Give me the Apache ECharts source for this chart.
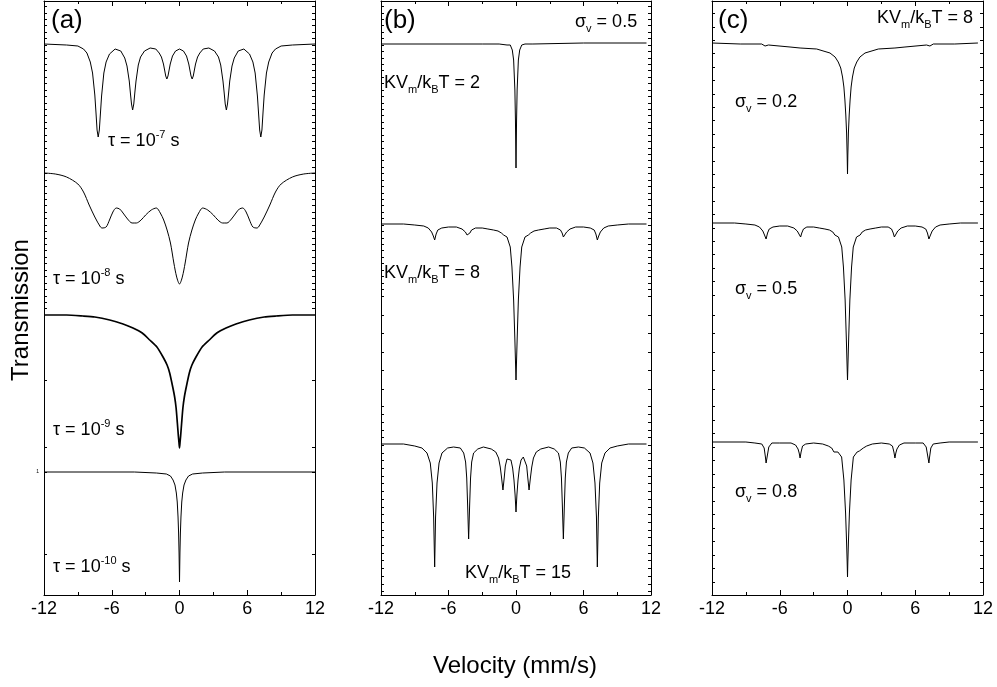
<!DOCTYPE html>
<html>
<head>
<meta charset="utf-8">
<script src="https://cdn.jsdelivr.net/npm/echarts@6/dist/echarts.min.js"></script>
<style>
html,body{margin:0;padding:0;background:#fff;}
#chart{width:997px;height:687px;}
</style>
</head>
<body>
<div id="chart"></div>
<script>
// ---------- DATA (velocity mm/s, transmission with vertical offsets) ----------
const xTickLabels = ['-12', '-6', '0', '6', '12'];
const yTickLabels = ['1'];

// Panel (a)
const tau7 = [[-12,1.428],[-10,1.427],[-9,1.426],[-8.5,1.423],[-8.2,1.419],[-7.9,1.410],[-7.7,1.399],[-7.5,1.377],[-7.4,1.360],[-7.3,1.342],[-7.2,1.335],[-7.1,1.342],[-7.0,1.359],[-6.9,1.376],[-6.7,1.399],[-6.5,1.410],[-6.2,1.418],[-5.7,1.423],[-5.2,1.421],[-4.85,1.414],[-4.65,1.406],[-4.45,1.391],[-4.35,1.379],[-4.25,1.368],[-4.15,1.362],[-4.05,1.368],[-3.95,1.380],[-3.85,1.391],[-3.65,1.407],[-3.45,1.415],[-3.1,1.421],[-2.6,1.424],[-2.1,1.423],[-1.8,1.419],[-1.6,1.415],[-1.42,1.408],[-1.32,1.402],[-1.22,1.396],[-1.12,1.393],[-1.02,1.396],[-0.92,1.402],[-0.82,1.408],[-0.62,1.416],[-0.35,1.421],[0,1.423],[0.35,1.421],[0.62,1.416],[0.82,1.408],[0.92,1.402],[1.02,1.396],[1.12,1.393],[1.22,1.396],[1.32,1.402],[1.42,1.408],[1.6,1.415],[1.8,1.419],[2.1,1.423],[2.6,1.424],[3.1,1.421],[3.45,1.415],[3.65,1.407],[3.85,1.391],[3.95,1.380],[4.05,1.368],[4.15,1.362],[4.25,1.368],[4.35,1.379],[4.45,1.391],[4.65,1.406],[4.85,1.414],[5.2,1.421],[5.7,1.423],[6.2,1.418],[6.5,1.410],[6.7,1.399],[6.9,1.376],[7.0,1.359],[7.1,1.342],[7.2,1.335],[7.3,1.342],[7.4,1.360],[7.5,1.377],[7.7,1.399],[7.9,1.410],[8.2,1.419],[8.5,1.423],[9,1.426],[10,1.427],[12,1.428]];

const tau8 = [[-12,1.299],[-11,1.298],[-10,1.295],[-9,1.288],[-8.5,1.280],[-8,1.267],[-7.5,1.255],[-7,1.245],[-6.86,1.244],[-6.5,1.245],[-6.2,1.252],[-5.9,1.260],[-5.6,1.264],[-5.3,1.263],[-5.0,1.259],[-4.6,1.253],[-4.2,1.249],[-3.82,1.249],[-3.4,1.252],[-3.0,1.257],[-2.5,1.262],[-2.05,1.264],[-1.7,1.259],[-1.4,1.252],[-1.1,1.242],[-0.8,1.229],[-0.5,1.209],[-0.25,1.195],[0,1.188],[0.25,1.195],[0.5,1.209],[0.8,1.229],[1.1,1.242],[1.4,1.252],[1.7,1.259],[2.05,1.264],[2.5,1.262],[3.0,1.257],[3.4,1.252],[3.82,1.249],[4.2,1.249],[4.6,1.253],[5.0,1.259],[5.3,1.263],[5.6,1.264],[5.9,1.260],[6.2,1.252],[6.5,1.245],[6.86,1.244],[7,1.245],[7.5,1.255],[8,1.267],[8.5,1.280],[9,1.288],[10,1.295],[11,1.298],[12,1.299]];

const tau9 = [[-12,1.157],[-10,1.157],[-8.55,1.156],[-7.5,1.155],[-6.18,1.152],[-5,1.148],[-4.12,1.144],[-3.3,1.139],[-2.64,1.132],[-2,1.125],[-1.46,1.115],[-1.1,1.107],[-0.87,1.099],[-0.6,1.085],[-0.43,1.075],[-0.3,1.064],[-0.19,1.049],[-0.1,1.036],[-0.05,1.030],[0,1.024],[0.05,1.030],[0.1,1.036],[0.19,1.049],[0.3,1.064],[0.43,1.075],[0.6,1.085],[0.87,1.099],[1.1,1.107],[1.46,1.115],[2,1.125],[2.64,1.132],[3.3,1.139],[4.12,1.144],[5,1.148],[6.18,1.152],[7.5,1.155],[8.55,1.156],[10,1.157],[12,1.157]];

const tau10 = [[-12,1.000],[-4,1.000],[-2.05,0.999],[-1.16,0.998],[-0.8,0.996],[-0.57,0.992],[-0.4,0.987],[-0.28,0.979],[-0.2,0.970],[-0.13,0.955],[-0.08,0.939],[-0.04,0.919],[0,0.890],[0.04,0.919],[0.08,0.939],[0.13,0.955],[0.2,0.970],[0.28,0.979],[0.4,0.987],[0.57,0.992],[0.8,0.996],[1.16,0.998],[2.05,0.999],[4,1.000],[12,1.000]];

// Panel (b), sigma_v = 0.5
const kv2 = [[-12,1.428],[-3,1.428],[-1.5,1.428],[-0.8,1.427],[-0.51,1.427],[-0.33,1.422],[-0.21,1.412],[-0.1,1.382],[-0.05,1.352],[0,1.304],[0.05,1.352],[0.1,1.382],[0.21,1.412],[0.33,1.422],[0.51,1.427],[0.8,1.428],[1.5,1.428],[6,1.429],[11.6,1.429]];

const kv8 = [[-12,1.248],[-10,1.248],[-9,1.247],[-8.2,1.246],[-7.8,1.244],[-7.5,1.240],[-7.35,1.236],[-7.23,1.232],[-7.1,1.238],[-6.95,1.242],[-6.6,1.244],[-6,1.245],[-5.3,1.245],[-4.8,1.243],[-4.5,1.240],[-4.35,1.237],[-4.21,1.235],[-4.1,1.239],[-3.95,1.242],[-3.6,1.244],[-3,1.244],[-2.5,1.243],[-2,1.242],[-1.6,1.241],[-1.3,1.239],[-1.1,1.237],[-0.95,1.237],[-0.8,1.235],[-0.51,1.225],[-0.36,1.205],[-0.21,1.172],[-0.1,1.132],[-0.05,1.112],[0,1.092],[0.05,1.112],[0.1,1.132],[0.21,1.172],[0.36,1.205],[0.51,1.225],[0.8,1.235],[0.95,1.237],[1.1,1.237],[1.3,1.239],[1.6,1.241],[2,1.242],[2.5,1.243],[3,1.244],[3.6,1.244],[3.95,1.242],[4.1,1.239],[4.21,1.235],[4.35,1.237],[4.5,1.240],[4.8,1.243],[5.3,1.245],[6,1.245],[6.6,1.244],[6.95,1.242],[7.1,1.238],[7.23,1.232],[7.35,1.236],[7.5,1.240],[7.8,1.244],[8.2,1.246],[9,1.247],[10,1.248],[11.6,1.248]];

const kv15 = [[-12,1.028],[-10,1.028],[-9,1.026],[-8.36,1.024],[-7.91,1.019],[-7.62,1.009],[-7.44,0.989],[-7.32,0.955],[-7.23,0.905],[-7.15,0.955],[-7.02,0.989],[-6.84,1.009],[-6.58,1.019],[-6.08,1.024],[-5.55,1.025],[-4.95,1.024],[-4.65,1.019],[-4.48,1.010],[-4.38,0.994],[-4.3,0.967],[-4.21,0.933],[-4.12,0.967],[-4.04,0.994],[-3.94,1.010],[-3.77,1.019],[-3.4,1.023],[-2.9,1.025],[-2.2,1.023],[-1.8,1.020],[-1.55,1.014],[-1.4,1.005],[-1.28,0.994],[-1.16,0.982],[-1.05,0.994],[-0.95,1.006],[-0.8,1.013],[-0.65,1.015],[-0.45,1.012],[-0.3,1.004],[-0.18,0.992],[-0.08,0.977],[0,0.960],[0.08,0.977],[0.18,0.992],[0.3,1.004],[0.45,1.012],[0.65,1.015],[0.8,1.013],[0.95,1.006],[1.05,0.994],[1.16,0.982],[1.28,0.994],[1.4,1.005],[1.55,1.014],[1.8,1.020],[2.2,1.023],[2.9,1.025],[3.4,1.023],[3.77,1.019],[3.94,1.010],[4.04,0.994],[4.12,0.967],[4.21,0.933],[4.3,0.967],[4.38,0.994],[4.48,1.010],[4.65,1.019],[4.95,1.024],[5.55,1.025],[6.08,1.024],[6.58,1.019],[6.84,1.009],[7.02,0.989],[7.15,0.955],[7.23,0.905],[7.32,0.955],[7.44,0.989],[7.62,1.009],[7.91,1.019],[8.36,1.024],[9,1.026],[10,1.028],[11.6,1.028]];

// Panel (c), KVm/kBT = 8
const sig02 = [[-12,1.429],[-9.5,1.428],[-7.6,1.428],[-7.3,1.426],[-7.0,1.427],[-5.09,1.425],[-4.2,1.424],[-2.73,1.423],[-1.55,1.419],[-1.1,1.415],[-0.82,1.410],[-0.6,1.404],[-0.44,1.395],[-0.32,1.385],[-0.23,1.372],[-0.15,1.357],[-0.08,1.339],[-0.03,1.317],[0,1.298],[0.03,1.317],[0.08,1.339],[0.15,1.357],[0.23,1.372],[0.32,1.385],[0.44,1.395],[0.6,1.404],[0.82,1.410],[1.1,1.415],[1.55,1.419],[2.73,1.423],[4.2,1.424],[5.09,1.425],[7.0,1.427],[7.3,1.426],[7.6,1.428],[9.5,1.428],[11.55,1.429]];

const sig05 = [[-12,1.249],[-10,1.249],[-9,1.248],[-8.2,1.247],[-7.8,1.245],[-7.5,1.241],[-7.35,1.237],[-7.21,1.233],[-7.08,1.239],[-6.93,1.243],[-6.6,1.245],[-6,1.246],[-5.3,1.246],[-4.75,1.244],[-4.45,1.241],[-4.3,1.238],[-4.15,1.235],[-4.05,1.239],[-3.9,1.243],[-3.6,1.245],[-3,1.245],[-2.5,1.244],[-2,1.243],[-1.6,1.242],[-1.3,1.240],[-1.12,1.237],[-0.95,1.237],[-0.8,1.235],[-0.51,1.225],[-0.36,1.205],[-0.21,1.172],[-0.1,1.132],[-0.05,1.112],[0,1.092],[0.05,1.112],[0.1,1.132],[0.21,1.172],[0.36,1.205],[0.51,1.225],[0.8,1.235],[0.95,1.237],[1.12,1.237],[1.3,1.240],[1.6,1.242],[2,1.243],[2.5,1.244],[3,1.245],[3.6,1.245],[3.9,1.243],[4.05,1.239],[4.15,1.235],[4.3,1.238],[4.45,1.241],[4.75,1.244],[5.3,1.246],[6,1.246],[6.6,1.245],[6.93,1.243],[7.08,1.239],[7.21,1.233],[7.35,1.237],[7.5,1.241],[7.8,1.245],[8.2,1.247],[9,1.248],[10,1.249],[11.55,1.249]];

const sig08 = [[-12,1.030],[-9,1.030],[-8.2,1.029],[-7.59,1.028],[-7.38,1.024],[-7.27,1.015],[-7.21,1.009],[-7.12,1.015],[-6.97,1.025],[-6.7,1.029],[-6,1.029],[-5,1.029],[-4.6,1.027],[-4.38,1.023],[-4.28,1.019],[-4.2,1.014],[-4.11,1.020],[-3.98,1.026],[-3.7,1.028],[-3,1.029],[-2.2,1.028],[-1.7,1.026],[-1.4,1.024],[-1.2,1.020],[-1.05,1.021],[-0.85,1.020],[-0.52,1.015],[-0.32,0.992],[-0.17,0.959],[-0.08,0.929],[-0.03,0.910],[0,0.895],[0.03,0.910],[0.08,0.929],[0.17,0.959],[0.32,0.992],[0.52,1.015],[0.85,1.020],[1.05,1.021],[1.2,1.020],[1.4,1.024],[1.7,1.026],[2.2,1.028],[3,1.029],[3.7,1.028],[3.98,1.026],[4.11,1.020],[4.2,1.014],[4.28,1.019],[4.38,1.023],[4.6,1.027],[5,1.029],[6,1.029],[6.7,1.029],[6.97,1.025],[7.12,1.015],[7.21,1.009],[7.27,1.015],[7.38,1.024],[7.59,1.028],[8.2,1.029],[9,1.030],[11.55,1.030]];

// ---------- CHART ----------
const FONT = '"Liberation Sans", Arial, Helvetica, sans-serif';
const Y_MIN = 0.877, Y_MAX = 1.471;
const pyToVal = py => +( (1472 - py) / 1000 ).toFixed(4);

function range(a, b, step) { const r = []; for (let p = a; p <= b + 1e-6; p += step) r.push(p); return r; }
const tickPx = [
  range(6.4, 310, 6.43).concat([380.7, 447, 472.3, 554.3]),
  range(6.4, 300, 6.43).concat([315, 333.3, 352.3, 370.7, 389, 406.7]).concat(range(414.4, 592, 7.7)),
  range(13.5, 300, 13.4).concat([315, 333.3, 352.3, 370.7, 389, 406.7]).concat(range(420, 592, 13.5))
];

const grids = [
  {left: 44, top: 1, width: 271, height: 594},
  {left: 381, top: 1, width: 270, height: 594},
  {left: 712, top: 1, width: 271, height: 594}
];

const xAxes = [], yAxes = [];
grids.forEach((g, i) => {
  const base = {
    type: 'value', min: -12, max: 12, interval: 6, gridIndex: i,
    axisLine: {onZero: false, lineStyle: {color: '#000', width: 1}},
    axisTick: {inside: true, length: 5, lineStyle: {color: '#000'}},
    minorTick: {show: true, splitNumber: 2, length: 3, lineStyle: {color: '#000'}},
    splitLine: {show: false}
  };
  xAxes.push(Object.assign({}, base, {position: 'bottom',
    axisLabel: {fontSize: 18, color: '#000', fontFamily: FONT, margin: 5,
      formatter: v => xTickLabels[Math.round((v + 12) / 6)]}}));
  xAxes.push(Object.assign({}, base, {position: 'top', axisLabel: {show: false}}));
  const ticks = tickPx[i].map(pyToVal);
  const yb = {
    type: 'value', min: Y_MIN, max: Y_MAX, gridIndex: i,
    axisLine: {show: true, onZero: false, lineStyle: {color: '#000', width: 1}},
    axisTick: {show: true, inside: true, length: 3, customValues: ticks, lineStyle: {color: '#000'}},
    splitLine: {show: false}
  };
  yAxes.push(Object.assign({}, yb, {position: 'left',
    axisLabel: i === 0 ? {show: true, customValues: [1], fontSize: 5, color: '#000', margin: 5,
      fontFamily: FONT, formatter: () => yTickLabels[0]} : {show: false}}));
  yAxes.push(Object.assign({}, yb, {position: 'right', axisLabel: {show: false}}));
});

const curves = [
  {d: tau7, g: 0}, {d: tau8, g: 0, smooth: 0.3}, {d: tau9, g: 0, w: 1.7, smooth: 0.2}, {d: tau10, g: 0},
  {d: kv2, g: 1}, {d: kv8, g: 1}, {d: kv15, g: 1},
  {d: sig02, g: 2}, {d: sig05, g: 2}, {d: sig08, g: 2}
];
const series = curves.map(c => ({
  type: 'line', xAxisIndex: c.g * 2, yAxisIndex: c.g * 2, data: c.d,
  showSymbol: false, smooth: c.smooth || false, silent: true, animation: false,
  lineStyle: {color: '#000', width: c.w || 1}
}));

const RICH = {
  n: {fontSize: 18, fontFamily: FONT, fill: '#000', lineHeight: 24},
  sp: {fontSize: 11, fontFamily: FONT, fill: '#000', lineHeight: 12, verticalAlign: 'top'},
  sb: {fontSize: 11, fontFamily: FONT, fill: '#000', lineHeight: 12, verticalAlign: 'bottom'},
  big: {fontSize: 26, fontFamily: FONT, fill: '#000', lineHeight: 30}
};
function txt(x, y, text, align) {
  return {type: 'text', x: x, y: y, silent: true,
    style: {text: text, rich: RICH, fill: '#000', font: '18px ' + FONT, align: align || 'left', verticalAlign: 'middle'}};
}
const graphics = [
  txt(51, 21, '{big|(a)}'), txt(384, 21, '{big|(b)}'), txt(718, 21, '{big|(c)}'),
  txt(108, 141, '{n|τ = 10}{sp|-7}{n| s}'),
  txt(53, 279, '{n|τ = 10}{sp|-8}{n| s}'),
  txt(53, 430, '{n|τ = 10}{sp|-9}{n| s}'),
  txt(53, 567, '{n|τ = 10}{sp|-10}{n| s}'),
  txt(575, 22, '{n|σ}{sb|v}{n| = 0.5}'),
  txt(384, 83, '{n|KV}{sb|m}{n|/k}{sb|B}{n|T = 2}'),
  txt(384, 273, '{n|KV}{sb|m}{n|/k}{sb|B}{n|T = 8}'),
  txt(465, 573, '{n|KV}{sb|m}{n|/k}{sb|B}{n|T = 15}'),
  txt(973, 18, '{n|KV}{sb|m}{n|/k}{sb|B}{n|T = 8}', 'right'),
  txt(735, 102, '{n|σ}{sb|v}{n| = 0.2}'),
  txt(735, 289, '{n|σ}{sb|v}{n| = 0.5}'),
  txt(735, 492, '{n|σ}{sb|v}{n| = 0.8}'),
  {type: 'text', x: 21, y: 310, rotation: Math.PI / 2, silent: true,
    style: {text: 'Transmission', font: '24px ' + FONT, fill: '#000', align: 'center', verticalAlign: 'middle'}},
  {type: 'text', x: 515, y: 666, silent: true,
    style: {text: 'Velocity (mm/s)', font: '24px ' + FONT, fill: '#000', align: 'center', verticalAlign: 'middle'}}
];

const chart = echarts.init(document.getElementById('chart'), null, {renderer: 'canvas'});
chart.setOption({
  animation: false,
  backgroundColor: '#fff',
  grid: grids,
  xAxis: xAxes,
  yAxis: yAxes,
  series: series,
  graphic: graphics
});
</script>
</body>
</html>
